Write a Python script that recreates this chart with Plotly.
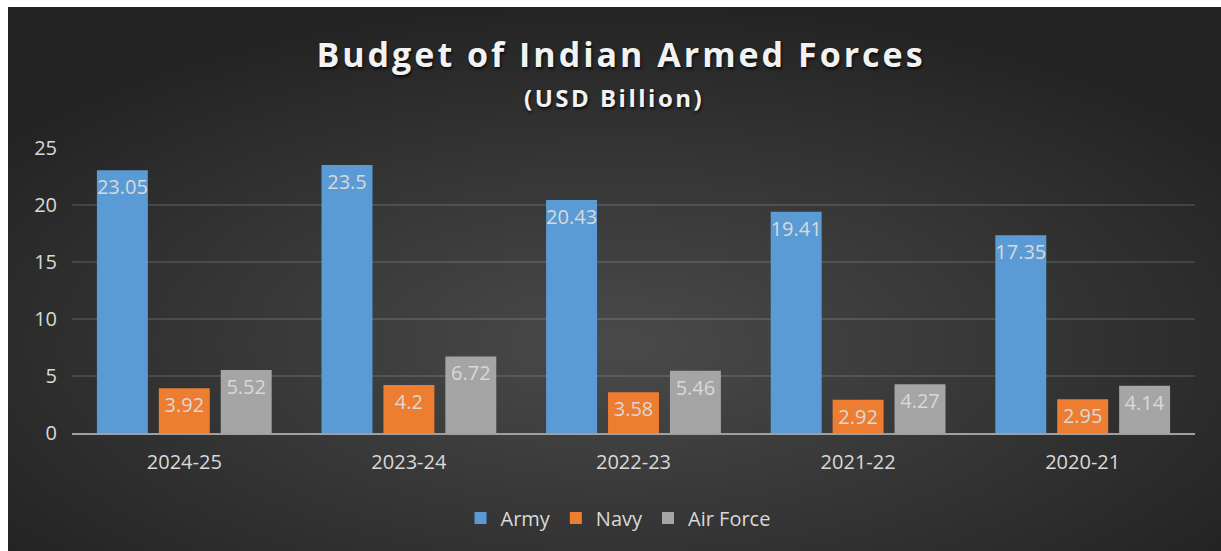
import base64
import plotly.graph_objects as go

years = ["2024-25", "2023-24", "2022-23", "2021-22", "2020-21"]
army = [23.05, 23.5, 20.43, 19.41, 17.35]
navy = [3.92, 4.2, 3.58, 2.92, 2.95]
air_force = [5.52, 6.72, 5.46, 4.27, 4.14]

W, H = 1221, 551
ML, MR, MT, MB = 72, 26, 148, 118
pw, ph = W - ML - MR, H - MT - MB

FONT = "Open Sans"
TXT = "#D9D9D9"

svg = (
    "<svg xmlns='http://www.w3.org/2000/svg' width='1213' height='544' preserveAspectRatio='none'>"
    "<defs><radialGradient id='g' cx='50%' cy='62%' r='62%'>"
    "<stop offset='0%' stop-color='rgb(74,74,74)'/>"
    "<stop offset='100%' stop-color='rgb(36,36,36)'/>"
    "</radialGradient></defs>"
    "<rect width='1213' height='544' fill='url(#g)'/></svg>"
)
bg_src = "data:image/svg+xml;base64," + base64.b64encode(svg.encode()).decode()

fig = go.Figure()
series = [("Army", army, "#5B9BD5"), ("Navy", navy, "#ED7D31"), ("Air Force", air_force, "#A5A5A5")]
for name, vals, col in series:
    fig.add_trace(go.Bar(
        x=years, y=vals, name=name,
        marker=dict(color=col, line=dict(width=0)),
        text=[f"{v:g}" for v in vals],
        textposition="inside", insidetextanchor="end", constraintext="none",
        textangle=0,
        textfont=dict(family=FONT, size=20, color=TXT),
        cliponaxis=False,
    ))

x0 = (8 - ML) / pw
y_top = (H - MB - 7) / ph
fig.add_layout_image(dict(
    source=bg_src, xref="paper", yref="paper",
    x=x0, y=y_top, sizex=(W - 8) / pw, sizey=(H - 7) / ph,
    xanchor="left", yanchor="top", sizing="stretch", layer="below",
))

fig.update_layout(
    width=W, height=H,
    margin=dict(l=ML, r=MR, t=MT, b=MB, pad=0),
    paper_bgcolor="white", plot_bgcolor="rgba(0,0,0,0)",
    barmode="group", bargap=0.173, bargroupgap=0.177,
    title=dict(
        text="<span style='letter-spacing:3px'>Budget of Indian Armed Forces</span>",
        x=621 / W, xanchor="center", y=1 - 55 / H, yanchor="middle",
        font=dict(family=FONT, size=34, color="#F2F2F2", weight="bold",
                  shadow="1px 2px 3px rgba(0,0,0,0.75)"),
    ),
    annotations=[dict(
        text="<span style='letter-spacing:2.5px'>(USD Billion)</span>",
        xref="paper", yref="paper",
        x=(614 - ML) / pw, y=(H - MB - 98) / ph, xanchor="center", yanchor="middle",
        showarrow=False,
        font=dict(family=FONT, size=24, color="#F2F2F2", weight="bold",
                  shadow="1px 2px 3px rgba(0,0,0,0.75)"),
    )],
    legend=dict(
        orientation="h", x=(618 - ML) / pw, xanchor="center",
        y=(H - MB - 518) / ph, yanchor="middle",
        font=dict(family=FONT, size=20, color=TXT),
        bgcolor="rgba(0,0,0,0)", traceorder="normal",
    ),
    xaxis=dict(
        showgrid=False, ticks="", showline=True, linecolor="#A0A0A0", linewidth=2,
        tickfont=dict(family=FONT, size=20, color=TXT), ticklabelstandoff=10,
    ),
    yaxis=dict(
        range=[0, 25], dtick=5, showgrid=True, gridcolor="rgba(255,255,255,0.12)", gridwidth=2,
        zeroline=False, showline=False, ticks="",
        tickfont=dict(family=FONT, size=20, color=TXT), ticklabelstandoff=14,
    ),
)

fig.write_html("out.html")
